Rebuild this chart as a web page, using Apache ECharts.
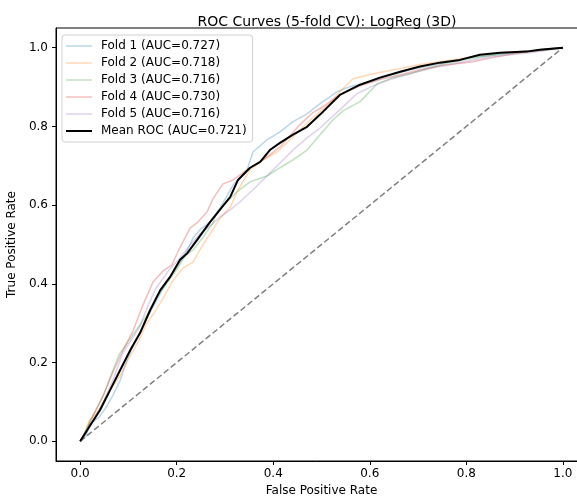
<!DOCTYPE html>
<html>
<head>
<meta charset="utf-8">
<script src="https://cdn.jsdelivr.net/npm/echarts@6/dist/echarts.min.js"></script>
<style>
html,body{margin:0;padding:0;background:#fff;}
#chart{width:577px;height:497px;}
</style>
</head>
<body>
<div id="chart"></div>
<script>
const titleText = "ROC Curves (5-fold CV): LogReg (3D)";
const xName = "False Positive Rate";
const yName = "True Positive Rate";
const xTicks = [0, 0.2, 0.4, 0.6, 0.8, 1.0];
const yTicks = [0, 0.2, 0.4, 0.6, 0.8, 1.0];

const foldNames = ["Fold 1 (AUC=0.727)", "Fold 2 (AUC=0.718)", "Fold 3 (AUC=0.716)", "Fold 4 (AUC=0.730)", "Fold 5 (AUC=0.716)"];
const meanName = "Mean ROC (AUC=0.721)";

const fold1 = [[0,0],[0.012,0.013],[0.019,0.043],[0.039,0.061],[0.054,0.087],[0.068,0.117],[0.083,0.155],[0.097,0.206],[0.110,0.244],[0.124,0.277],[0.139,0.316],[0.159,0.359],[0.180,0.407],[0.201,0.443],[0.222,0.486],[0.234,0.517],[0.248,0.537],[0.269,0.557],[0.290,0.593],[0.317,0.651],[0.346,0.690],[0.358,0.735],[0.387,0.766],[0.414,0.786],[0.441,0.812],[0.470,0.832],[0.497,0.858],[0.532,0.888],[0.559,0.901],[0.600,0.913],[0.642,0.929],[0.683,0.944],[0.725,0.954],[0.766,0.964],[0.807,0.975],[0.849,0.980],[0.890,0.987],[0.932,0.992],[0.973,0.997],[1,1]];
const fold2 = [[0,0],[0.006,0.010],[0.019,0.053],[0.039,0.079],[0.060,0.127],[0.081,0.163],[0.101,0.211],[0.122,0.257],[0.137,0.298],[0.157,0.333],[0.172,0.364],[0.193,0.410],[0.213,0.440],[0.234,0.455],[0.248,0.486],[0.269,0.527],[0.290,0.567],[0.311,0.595],[0.325,0.634],[0.352,0.690],[0.379,0.715],[0.408,0.735],[0.435,0.766],[0.462,0.799],[0.482,0.822],[0.511,0.852],[0.538,0.888],[0.565,0.921],[0.607,0.934],[0.663,0.947],[0.704,0.957],[0.745,0.964],[0.787,0.972],[0.828,0.980],[0.870,0.987],[0.932,0.992],[0.973,0.997],[1,1]];
const fold3 = [[0,0],[0.008,0.018],[0.021,0.053],[0.035,0.084],[0.048,0.117],[0.068,0.181],[0.081,0.221],[0.093,0.242],[0.110,0.272],[0.137,0.318],[0.157,0.364],[0.178,0.399],[0.199,0.435],[0.219,0.473],[0.234,0.486],[0.255,0.519],[0.275,0.555],[0.284,0.583],[0.325,0.634],[0.352,0.659],[0.387,0.674],[0.414,0.695],[0.441,0.715],[0.470,0.740],[0.497,0.779],[0.524,0.817],[0.545,0.840],[0.580,0.863],[0.615,0.908],[0.648,0.924],[0.683,0.934],[0.725,0.949],[0.766,0.962],[0.807,0.972],[0.849,0.980],[0.890,0.985],[0.932,0.990],[0.973,0.995],[1,1]];
const fold4 = [[0,0],[0.008,0.013],[0.027,0.066],[0.050,0.122],[0.068,0.176],[0.089,0.232],[0.110,0.282],[0.130,0.346],[0.151,0.405],[0.172,0.433],[0.190,0.448],[0.203,0.483],[0.228,0.542],[0.244,0.557],[0.263,0.583],[0.275,0.616],[0.296,0.654],[0.317,0.664],[0.346,0.690],[0.379,0.715],[0.414,0.748],[0.455,0.804],[0.482,0.835],[0.503,0.850],[0.538,0.880],[0.580,0.903],[0.621,0.919],[0.663,0.931],[0.704,0.944],[0.745,0.954],[0.814,0.964],[0.855,0.975],[0.925,0.990],[0.963,0.995],[1,1]];
const fold5 = [[0,0],[0.012,0.020],[0.027,0.053],[0.048,0.099],[0.068,0.155],[0.089,0.226],[0.110,0.265],[0.122,0.288],[0.141,0.346],[0.157,0.389],[0.184,0.435],[0.207,0.466],[0.228,0.499],[0.248,0.527],[0.269,0.547],[0.290,0.570],[0.311,0.588],[0.331,0.608],[0.358,0.639],[0.387,0.674],[0.414,0.707],[0.441,0.740],[0.470,0.771],[0.497,0.796],[0.538,0.842],[0.573,0.883],[0.607,0.903],[0.642,0.919],[0.683,0.934],[0.725,0.947],[0.766,0.957],[0.807,0.967],[0.849,0.977],[0.890,0.982],[0.932,0.987],[0.973,0.995],[1,1]];
const meanRoc = [[0,0],[0.021,0.041],[0.041,0.079],[0.062,0.130],[0.083,0.181],[0.104,0.232],[0.124,0.275],[0.145,0.333],[0.166,0.384],[0.186,0.417],[0.207,0.461],[0.222,0.478],[0.242,0.511],[0.269,0.557],[0.311,0.621],[0.327,0.664],[0.352,0.695],[0.373,0.710],[0.393,0.740],[0.414,0.758],[0.441,0.779],[0.470,0.799],[0.497,0.830],[0.538,0.880],[0.580,0.906],[0.621,0.924],[0.663,0.939],[0.704,0.952],[0.745,0.962],[0.787,0.969],[0.828,0.982],[0.870,0.987],[0.925,0.990],[0.952,0.995],[1,1]];
const chanceLine = [[0,0],[1,1]];

const foldData = [fold1, fold2, fold3, fold4, fold5];
const foldColors = ['rgba(31,119,180,0.3)','rgba(255,127,14,0.3)','rgba(44,160,44,0.3)','rgba(214,39,40,0.3)','rgba(148,103,189,0.3)'];

const font = 'DejaVu Sans';
const series = [];
foldData.forEach((d, i) => {
  series.push({
    name: foldNames[i], type: 'line', data: d, symbol: 'none', silent: true,
    lineStyle: {color: foldColors[i], width: 1.5}, itemStyle: {color: foldColors[i]},
    animation: false
  });
});
series.push({
  name: 'chance', type: 'line', data: chanceLine, symbol: 'none', silent: true,
  lineStyle: {color: '#808080', width: 1.5, type: [6, 3]}, animation: false, z: 1
});
series.push({
  name: meanName, type: 'line', data: meanRoc, symbol: 'none', silent: true,
  lineStyle: {color: '#000', width: 2}, itemStyle: {color: '#000'}, animation: false, z: 5
});

const legendData = foldNames.map((n, i) => ({
  name: n, icon: 'path://M0,0 L26,0 L26,1.5 L0,1.5 Z', itemStyle: {color: foldColors[i]}
}));
legendData.push({name: meanName, icon: 'path://M0,0 L26,0 L26,2 L0,2 Z', itemStyle: {color: '#000'}});

const chart = echarts.init(document.getElementById('chart'), null, {renderer: 'canvas'});
chart.setOption({
  animation: false,
  backgroundColor: '#fff',
  textStyle: {fontFamily: font},
  title: {
    text: titleText, left: 322, top: 10, textAlign: 'center',
    textStyle: {fontFamily: font, fontSize: 14, fontWeight: 'normal', color: '#000'}
  },
  legend: {
    data: legendData,
    orient: 'vertical', left: 62, top: 35,
    itemWidth: 26, itemHeight: 10, itemGap: 5,
    padding: [5, 6, 5, 4],
    borderColor: '#d0d0d0', borderWidth: 1, borderRadius: 3,
    backgroundColor: 'rgba(255,255,255,0.8)',
    textStyle: {fontFamily: font, fontSize: 12, color: '#000', padding: [0, 0, 0, 4]},
    selectedMode: false
  },
  grid: {left: 56, right: -10, top: 28, bottom: 36, show: true, borderColor: '#000', borderWidth: 1, outerBoundsMode: 'none'},
  xAxis: {
    type: 'value', min: -0.05, max: 1.05,
    name: xName, nameLocation: 'middle', nameGap: 22,
    nameTextStyle: {fontFamily: font, fontSize: 12, color: '#000'},
    axisLine: {show: true, onZero: false, lineStyle: {color: '#000', width: 1}},
    axisTick: {show: true, length: 4, customValues: xTicks, lineStyle: {color: '#000'}},
    axisLabel: {customValues: xTicks, formatter: v => v.toFixed(1), fontFamily: font, fontSize: 12, color: '#000', margin: 7},
    splitLine: {show: false}
  },
  yAxis: {
    type: 'value', min: -0.05, max: 1.05,
    name: yName, nameLocation: 'middle', nameGap: 31,
    nameTextStyle: {fontFamily: font, fontSize: 12, color: '#000'},
    axisLine: {show: true, onZero: false, lineStyle: {color: '#000', width: 1}},
    axisTick: {show: true, length: 4, customValues: yTicks, lineStyle: {color: '#000'}},
    axisLabel: {customValues: yTicks, formatter: v => v.toFixed(1), fontFamily: font, fontSize: 12, color: '#000', margin: 8},
    splitLine: {show: false}
  },
  series: series
});
</script>
</body>
</html>
